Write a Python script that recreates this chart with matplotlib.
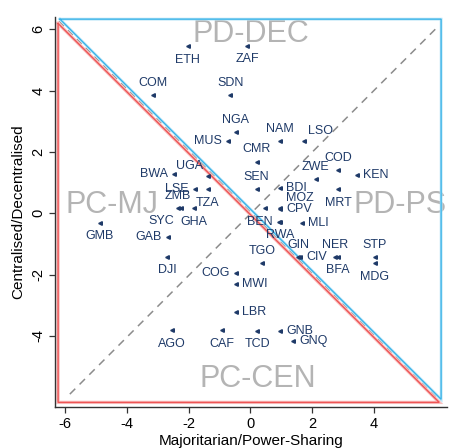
import matplotlib
matplotlib.use("Agg")
import matplotlib.pyplot as plt

plt.rcParams['font.family'] = ['Liberation Sans', 'DejaVu Sans']
plt.rcParams['axes.unicode_minus'] = False

# ---- data ----
countries = ["ETH", "ZAF", "COM", "SDN", "NGA", "MUS", "NAM", "LSO", "CMR", "BWA",
             "UGA", "COD", "ZWE", "KEN", "LSE", "TZA", "SEN", "BDI", "MRT", "ZMB",
             "SYC", "GHA", "MOZ", "CPV", "BEN", "RWA", "MLI", "GMB", "GAB", "GIN",
             "CIV", "NER", "BFA", "STP", "MDG", "DJI", "TGO", "COG", "MWI", "LBR",
             "AGO", "CAF", "TCD", "GNB", "GNQ", ""]
power_sharing = [-2.03, -0.11, -3.14, -0.65, -0.48, -0.72, 0.96, 1.74, 0.20, -2.47,
                 -1.38, 2.84, 2.11, 3.44, -1.79, -1.38, 0.20, 0.96, 2.84, -2.34,
                 -2.25, -1.82, 0.96, 0.96, 0.93, 0.97, 1.66, -4.87, -2.66, 1.54,
                 1.62, 2.74, 2.83, 4.03, 4.03, -2.69, 0.37, -0.48, -0.48, -0.48,
                 -2.55, -0.93, 0.22, 0.96, 1.39, 0.47]
decentral = [5.44, 5.46, 3.84, 3.86, 2.64, 2.34, 2.34, 2.34, 1.68, 1.27,
             1.22, 1.41, 1.11, 1.25, 0.78, 0.78, 0.78, 0.82, 0.78, 0.16,
             0.16, 0.16, 0.16, 0.13, -0.27, -0.28, -0.31, -0.31, -0.78, -1.42,
             -1.42, -1.42, -1.42, -1.42, -1.63, -1.42, -1.63, -1.94, -2.30, -3.22,
             -3.81, -3.81, -3.83, -3.83, -4.17, 0.16]
# label clock positions (Stata-style)
label_pos = [6, 6, 12, 12, 12, 9, 12, 1, 12, 9,
             11, 12, 12, 3, 9, 6, 12, 3, 6, 12,
             7, 6, 2, 3, 9, 6, 3, 6, 9, 12,
             3, 12, 6, 12, 6, 6, 12, 9, 3, 3,
             6, 6, 6, 3, 3, 3]

quadrants = ["PD-DEC", "PC-MJ", "PD-PS", "PC-CEN"]
quad_x = [0.0, -4.48, 4.84, 0.25]
quad_y = [5.84, 0.26, 0.26, -5.41]

red_tri_x = [-6.22, -6.22, 6.11, -6.22]
red_tri_y = [6.19, -6.17, -6.17, 6.19]
blue_tri_x = [-6.16, 6.17, 6.17, -6.16]
blue_tri_y = [6.33, 6.33, -6.07, 6.33]
diag_x = [-5.84, 6.05]
diag_y = [-5.90, 6.07]
anti_x = [-6.19, 6.14]
anti_y = [6.26, -6.12]

x_ticks = [-6, -4, -2, 0, 2, 4]
y_ticks = [-4, -2, 0, 2, 4, 6]

# ---- figure ----
W, H = 450, 448
fig = plt.figure(figsize=(W / 100, H / 100), dpi=100)
ax = fig.add_axes([55 / W, 1 - 407 / H, (447 - 55) / W, (407 - 17) / H])
ax.set_xlim(-6.32, 6.36)
ax.set_ylim(-6.32, 6.40)

ax.plot(diag_x, diag_y, color='#8c8c8c', lw=1.1, ls=(0, (5, 4)), zorder=1)
ax.plot(anti_x, anti_y, color='#9a9a9a', lw=1.0, ls=(0, (5, 4)), zorder=1)
ax.plot(red_tri_x, red_tri_y, color='#f9c0c0', lw=2.4, zorder=2, solid_joinstyle='miter')
ax.plot(red_tri_x, red_tri_y, color='#ee5555', lw=1.0, zorder=2, solid_joinstyle='miter')
ax.plot(blue_tri_x, blue_tri_y, color='#b8e4f7', lw=2.0, zorder=2, solid_joinstyle='miter')
ax.plot(blue_tri_x, blue_tri_y, color='#35b2e8', lw=0.9, zorder=2, solid_joinstyle='miter')

for t, qx, qy in zip(quadrants, quad_x, quad_y):
    ax.text(qx, qy, t, fontsize=22, color='#b4b4b4', ha='center', va='center', zorder=1)

navy = '#1f3a68'
ax.plot(power_sharing, decentral, ls='none', marker='<', ms=2.6, color=navy, zorder=4)

offs = {12: (0, 4.5, 'center', 'bottom'), 6: (0, -5.5, 'center', 'top'),
        3: (4.5, 0, 'left', 'center'), 9: (-4.5, 0, 'right', 'center'),
        1: (3, 3, 'left', 'bottom'), 11: (-3, 3, 'right', 'bottom'),
        2: (4.5, 3, 'left', 'bottom'), 7: (-5, -5, 'right', 'top')}
for c, x, y, p in zip(countries, power_sharing, decentral, label_pos):
    if not c:
        continue
    dx, dy, ha, va = offs[p]
    ax.annotate(c, (x, y), xytext=(dx, dy), textcoords='offset points',
                ha=ha, va=va, fontsize=9, color=navy, zorder=5)

for s in ['top', 'right']:
    ax.spines[s].set_visible(False)
for s in ['left', 'bottom']:
    ax.spines[s].set_color('#333333')
    ax.spines[s].set_linewidth(1.0)

ax.set_xticks(x_ticks)
ax.set_yticks(y_ticks)
ax.tick_params(direction='out', length=4, width=0.9, color='#333333', labelsize=10.5, pad=3)
for lab in ax.get_yticklabels():
    lab.set_rotation(90)
    lab.set_va('center')
ax.set_xlabel("Majoritarian/Power-Sharing", fontsize=11, labelpad=2)
ax.set_ylabel("Centralised/Decentralised", fontsize=11, labelpad=4)

fig.savefig("out.png", dpi=100)
